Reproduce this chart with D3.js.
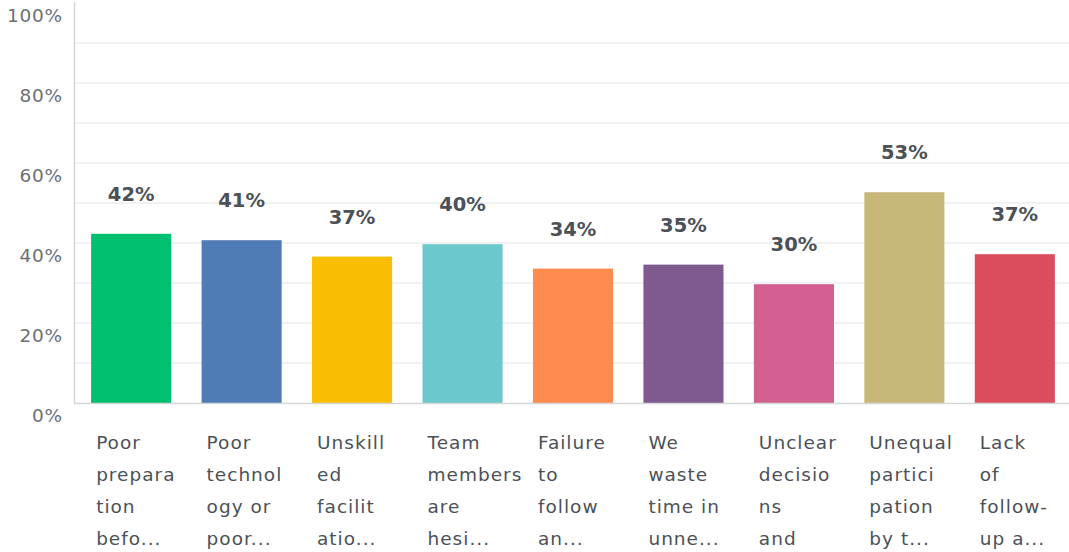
<!DOCTYPE html>
<html>
<head>
<meta charset="utf-8">
<script src="https://cdn.jsdelivr.net/npm/d3@7"></script>
<style>
  body { margin: 0; background: #fff; }
  svg { display: block; font-family: "DejaVu Sans", sans-serif; }
</style>
</head>
<body>
<div id="chart"></div>
<script>
var width = 1069,
    height = 552;

// data
var categories = ["A", "B", "C", "D", "E", "F", "G", "H", "I"];
var values = [42.3, 40.7, 36.6, 39.7, 33.6, 34.6, 29.7, 52.7, 37.2];
var valueLabels = ["42%", "41%", "37%", "40%", "34%", "35%", "30%", "53%", "37%"];
var labelLines = [
    ["Poor", "prepara", "tion", "befo..."],
    ["Poor", "technol", "ogy or", "poor..."],
    ["Unskill", "ed", "facilit", "atio..."],
    ["Team", "members", "are", "hesi..."],
    ["Failure", "to", "follow", "an..."],
    ["We", "waste", "time in", "unne..."],
    ["Unclear", "decisio", "ns", "and"],
    ["Unequal", "partici", "pation", "by t..."],
    ["Lack", "of", "follow-", "up a..."]
];
var colors = ["#00bf6f", "#507cb6", "#f9be00", "#6bc8cd", "#ff8b4f",
              "#7f5a8f", "#d25f90", "#c7b879", "#db4d5c"];
var yTicks = [0, 20, 40, 60, 80, 100];
var gridTicks = [10, 20, 30, 40, 50, 60, 70, 80, 90];

var svg = d3.select("#chart").append("svg")
    .attr("width", width)
    .attr("height", height);

var x = d3.scaleBand()
    .domain(categories)
    .range([76, 1070])
    .paddingInner(0.275)
    .paddingOuter(0.137);

var y = d3.scaleLinear()
    .domain([0, 100])
    .range([403, 3]);

// gridlines
svg.selectAll(".grid")
    .data(gridTicks)
    .enter().append("line")
    .attr("x1", 75)
    .attr("x2", width)
    .attr("y1", function(d){ return y(d); })
    .attr("y2", function(d){ return y(d); })
    .style("stroke", "#ececec")
    .style("stroke-width", 1.5);

// y tick labels (sit a bit below their line)
svg.selectAll(".ytick")
    .data(yTicks)
    .enter().append("text")
    .attr("x", 63)
    .attr("y", function(d){ return y(d) + 19; })
    .attr("text-anchor", "end")
    .style("font-size", "18.5px")
    .style("letter-spacing", "0.8px")
    .style("fill", "#6b7075")
    .text(function(d){ return d + "%"; });

// bars
svg.selectAll(".bar")
    .data(values)
    .enter().append("rect")
    .attr("x", function(d, i){ return x(categories[i]); })
    .attr("y", function(d){ return y(d); })
    .attr("width", x.bandwidth())
    .attr("height", function(d){ return y(0) - y(d); })
    .attr("fill", function(d, i){ return colors[i]; });

// axis lines
svg.append("line")
    .attr("x1", 74.5).attr("x2", 74.5)
    .attr("y1", 2).attr("y2", 403.5)
    .style("stroke", "#d4d6d8").style("stroke-width", 1.5);
svg.append("line")
    .attr("x1", 74).attr("x2", width)
    .attr("y1", 403.5).attr("y2", 403.5)
    .style("stroke", "#d4d6d8").style("stroke-width", 1.5);

// value labels
svg.selectAll(".vlabel")
    .data(values)
    .enter().append("text")
    .attr("x", function(d, i){ return x(categories[i]) + x.bandwidth() / 2; })
    .attr("y", function(d){ return y(d) - 33; })
    .attr("text-anchor", "middle")
    .style("font-size", "19.5px")
    .style("font-weight", "bold")
    .style("fill", "#4b5157")
    .text(function(d, i){ return valueLabels[i]; });

// category labels
var cat = svg.selectAll(".catlabel")
    .data(labelLines)
    .enter().append("text")
    .attr("x", function(d, i){ return x(categories[i]) + 5; })
    .attr("y", 449)
    .style("font-size", "18.5px")
    .style("letter-spacing", "1px")
    .style("fill", "#4b5157");

cat.selectAll("tspan")
    .data(function(d){ return d; })
    .enter().append("tspan")
    .attr("x", function(){ return d3.select(this.parentNode).attr("x"); })
    .attr("dy", function(d, j){ return j == 0 ? 0 : 32; })
    .text(function(d){ return d; });
</script>
</body>
</html>
